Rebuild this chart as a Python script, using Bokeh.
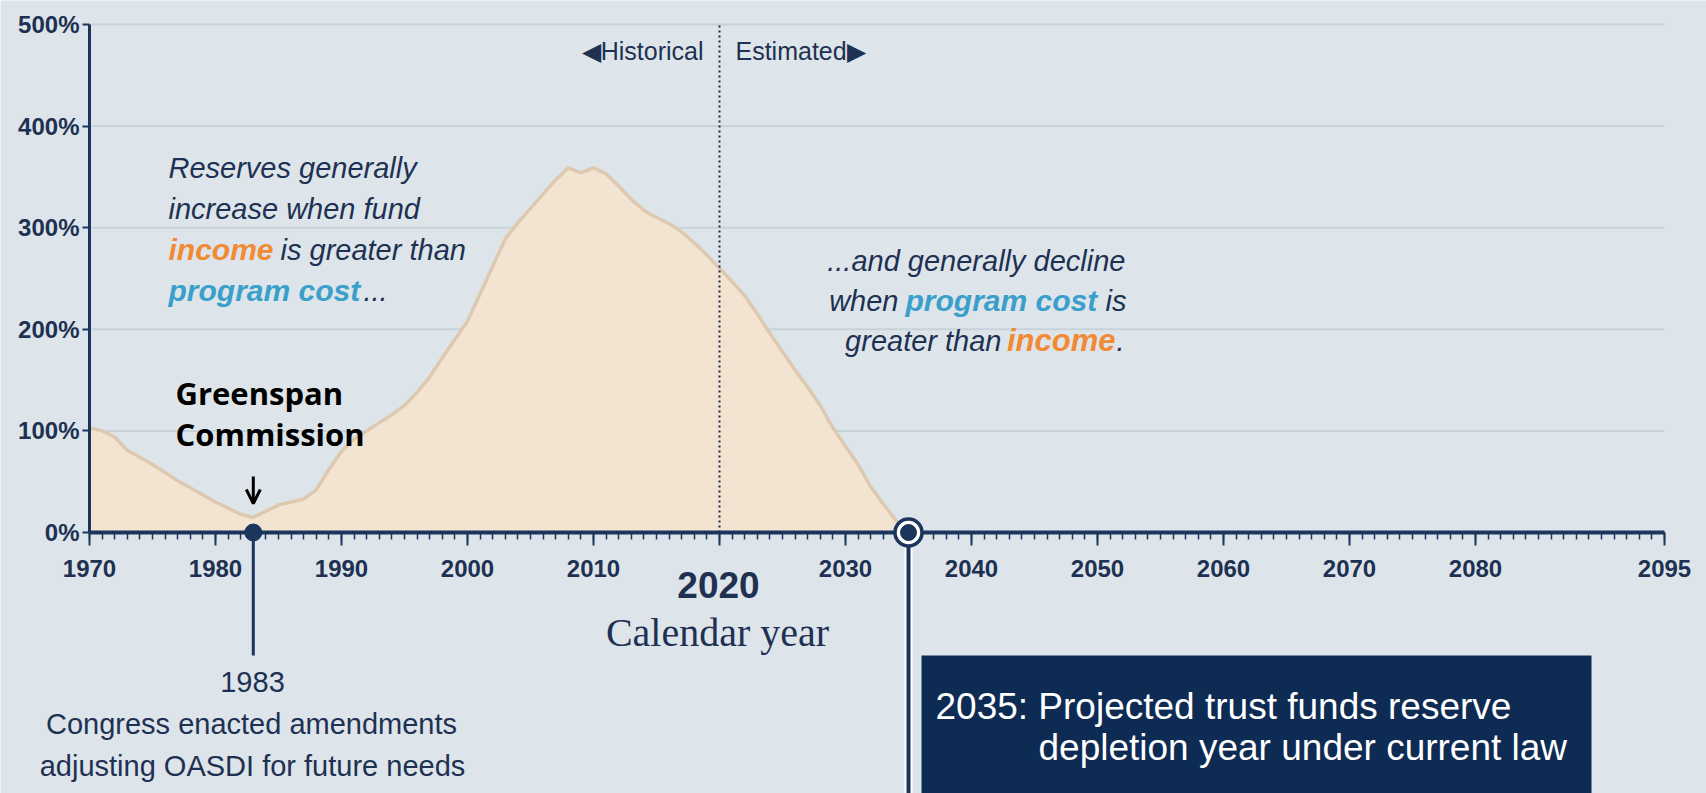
from bokeh.plotting import figure
from bokeh.models import (Range1d, LinearAxis, FixedTicker, PrintfTickFormatter,
                          Label, Arrow, OpenHead, BoxAnnotation)
from bokeh.embed import file_html
from bokeh.resources import INLINE

# ---------------- data ----------------
years = list(range(1970, 2036))
reserve_ratio = [
    103, 100, 94, 81, 74, 67, 59, 51, 44, 37,
    30, 24, 18, 15, 21, 27, 30, 33, 42, 62,
    80, 92, 100, 108, 116, 125, 138, 153, 172, 190,
    208, 235, 262, 289, 305, 319, 333, 347, 359, 354,
    359, 353, 341, 328, 317, 310, 304, 296, 285, 273,
    260, 247, 233, 215, 196, 178, 160, 143, 125, 103,
    85, 67, 45, 28, 12, 0,
]
x_ticks = [1970, 1980, 1990, 2000, 2010, 2020, 2030, 2040, 2050, 2060, 2070, 2080, 2095]
x_minor = list(range(1970, 2096))
y_ticks = [0, 100, 200, 300, 400, 500]
split_year = 2020
reform_year = 1983
depletion_year = 2035
x_first, x_last = 1970, 2095

# ---------------- layout helpers ----------------
W, H = 1706, 793
PX0, XS = 89, 12.6      # pixel of 1970, px per year
PY0, YS = 532, 1.016    # pixel of 0%, px per percent


def dx(px):
    return x_first + (px - PX0) / XS


def dy(py):
    return (PY0 - py) / YS


BG = "#dde5ea"
GRID = "#c8d2d9"
FILL = "#f3e4d2"
EDGE = "#ddc9b0"
NAVY = "#1b355c"
TEXT = "#1e3152"
ORANGE = "#f28a35"
TEAL = "#3a9fcb"
BOX = "#0e2b54"

p = figure(width=W, height=H, x_range=Range1d(dx(0), dx(W)), y_range=Range1d(dy(H), dy(0)),
           x_axis_type=None, y_axis_type=None, toolbar_location=None,
           output_backend="svg", min_border=0)
p.background_fill_color = BG
p.border_fill_color = BG
p.outline_line_color = None

# grid lines
grid_vals = y_ticks[1:]
p.segment(x0=[x_first] * len(grid_vals), y0=grid_vals, x1=[x_last] * len(grid_vals), y1=grid_vals,
          line_color=GRID, line_width=2)

# area
p.varea(x=years, y1=[0] * len(years), y2=reserve_ratio, fill_color=FILL)
p.line(years, reserve_ratio, line_color=EDGE, line_width=3.5)

# historical / estimated divider
p.segment(x0=[split_year], y0=[0], x1=[split_year], y1=[y_ticks[-1]],
          line_color="#1a2a44", line_width=2, line_dash="2 3")

# axes
xaxis = LinearAxis(fixed_location=0, bounds=(x_first, x_last),
                   ticker=FixedTicker(ticks=x_ticks, minor_ticks=x_minor),
                   major_label_overrides={split_year: ""})
xaxis.axis_line_color = NAVY
xaxis.axis_line_width = 4
xaxis.major_tick_in = 0
xaxis.major_tick_out = 13
xaxis.minor_tick_in = 0
xaxis.minor_tick_out = 7
xaxis.major_tick_line_color = NAVY
xaxis.minor_tick_line_color = NAVY
xaxis.major_tick_line_width = 2
xaxis.minor_tick_line_width = 1.5
xaxis.major_label_standoff = 14
xaxis.major_label_text_font = "Liberation Sans"
xaxis.major_label_text_font_style = "bold"
xaxis.major_label_text_font_size = "24px"
xaxis.major_label_text_color = TEXT
p.add_layout(xaxis, "below")

yaxis = LinearAxis(fixed_location=x_first, bounds=(y_ticks[0], y_ticks[-1]),
                   ticker=FixedTicker(ticks=y_ticks, minor_ticks=[]),
                   formatter=PrintfTickFormatter(format="%d%%"))
yaxis.axis_line_color = NAVY
yaxis.axis_line_width = 3
yaxis.major_tick_in = 0
yaxis.major_tick_out = 7
yaxis.major_tick_line_color = NAVY
yaxis.major_tick_line_width = 2
yaxis.minor_tick_out = 0
yaxis.major_label_standoff = 3
yaxis.major_label_text_font = "Liberation Sans"
yaxis.major_label_text_font_style = "bold"
yaxis.major_label_text_font_size = "24px"
yaxis.major_label_text_color = TEXT
p.add_layout(yaxis, "left")

# 1983 marker
p.segment(x0=[reform_year], y0=[0], x1=[reform_year], y1=[dy(655)],
          line_color=NAVY, line_width=3, level="overlay")
p.scatter(x=[reform_year], y=[0], size=17, fill_color=NAVY, line_color=NAVY, level="overlay")

# 2035 marker
p.segment(x0=[depletion_year], y0=[0], x1=[depletion_year], y1=[dy(H + 20)],
          line_color="white", line_width=8, level="overlay")
p.segment(x0=[depletion_year], y0=[0], x1=[depletion_year], y1=[dy(H + 20)],
          line_color=NAVY, line_width=4, level="overlay")
p.scatter(x=[depletion_year], y=[0], size=27, fill_color="white", line_color=NAVY,
          line_width=3.5, level="overlay")
p.scatter(x=[depletion_year], y=[0], size=16, fill_color=NAVY, line_color=NAVY, level="overlay")

# box
p.add_layout(BoxAnnotation(left=dx(921), right=dx(1591), top=dy(655), bottom=dy(H + 40),
                           fill_color=BOX, fill_alpha=1, line_color=None))


def lab(text, xpx, ypx, size, color, style="normal", font="Liberation Sans", align="left"):
    p.add_layout(Label(x=dx(xpx), y=dy(ypx), text=text, text_font=font, text_font_size=f"{size}px",
                       text_font_style=style, text_color=color, text_align=align,
                       text_baseline="alphabetic"))


# historical / estimated
lab("\u25C0Historical", 703, 50, 25, TEXT, align="right")
lab("Estimated\u25B6", 735, 50, 25, TEXT)

# left block
lab("Reserves generally", 168, 167, 29, TEXT, "italic")
lab("increase when fund", 168, 208, 29, TEXT, "italic")
lab("income", 168, 249, 30, ORANGE, "bold italic")
lab("is greater than", 280, 249, 29, TEXT, "italic")
lab("program cost", 168, 290, 30, TEAL, "bold italic")
lab("...", 363, 290, 29, TEXT, "italic")

# right block
lab("...and generally decline", 1125, 260, 29, TEXT, "italic", align="right")
lab("when", 898, 300, 29, TEXT, "italic", align="right")
lab("program cost", 905, 300, 30, TEAL, "bold italic")
lab("is", 1126, 300, 29, TEXT, "italic", align="right")
lab("greater than", 1001, 340, 29, TEXT, "italic", align="right")
lab("income", 1115, 340, 31, ORANGE, "bold italic", align="right")
lab(".", 1116, 340, 29, TEXT, "italic")

# Greenspan
lab("Greenspan", 175, 392, 31, "black", "bold", font="Open Sans")
lab("Commission", 175, 433, 31, "black", "bold", font="Open Sans")
p.add_layout(Arrow(end=OpenHead(size=14, line_width=3, line_color="black"),
                   x_start=reform_year, y_start=dy(476), x_end=reform_year, y_end=dy(503),
                   line_width=3, line_color="black"))

# 1983 annotation
lab("1983", 252, 681, 29, TEXT, align="center")
lab("Congress enacted amendments", 251, 723, 29, TEXT, align="center")
lab("adjusting OASDI for future needs", 252, 765, 29, TEXT, align="center")

# 2020 / Calendar year
lab("2020", 718, 584, 37, TEXT, "bold", align="center")
lab("Calendar year", 717, 632, 40, TEXT, font="Liberation Serif", align="center")

# box text
lab("2035: Projected trust funds reserve", 935, 706, 37, "white")
lab("depletion year under current law", 1038, 747, 37, "white")

open("out.html", "w").write(file_html(p, INLINE))
